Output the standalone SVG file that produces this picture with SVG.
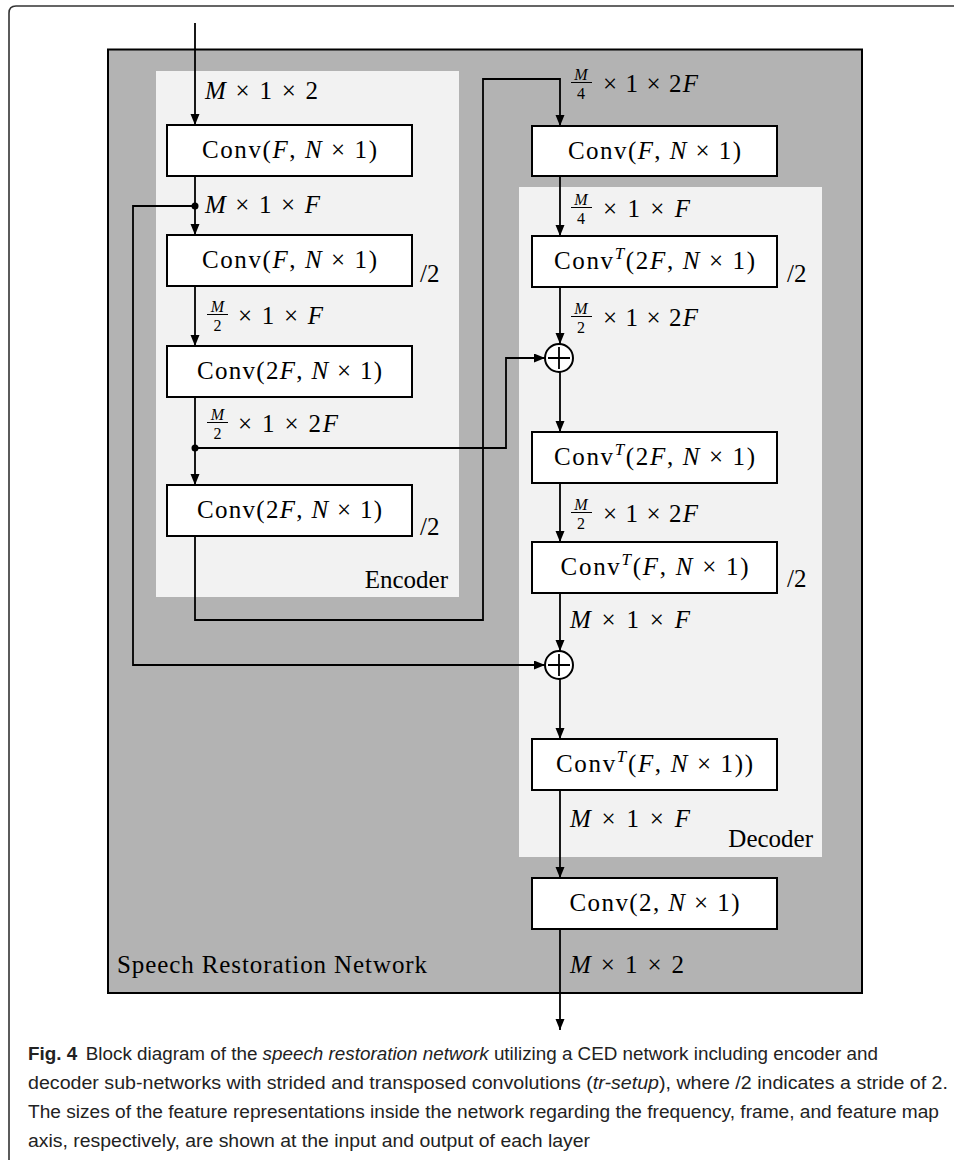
<svg xmlns="http://www.w3.org/2000/svg" width="954" height="1160" viewBox="0 0 954 1160">
<defs>
<marker id="arr" markerUnits="userSpaceOnUse" markerWidth="12" markerHeight="10" refX="11" refY="4.5" orient="auto">
<path d="M0,0 L11,4.5 L0,9 z" fill="#000"/>
</marker>
<style>
.blk{fill:#fff;stroke:#000;stroke-width:2}
.ln{fill:none;stroke:#000;stroke-width:1.8}
.tx{font-family:"Liberation Serif",serif;font-size:25px;fill:#000}
.it{font-style:italic}
.fr{font-family:"Liberation Serif",serif;font-size:16px;font-style:italic;fill:#000}
.frn{font-family:"Liberation Serif",serif;font-size:16px;fill:#000}
.bar{stroke:#000;stroke-width:1}
.cap{font-family:"Liberation Sans",Arial,sans-serif;font-size:17.5px;fill:#222}
.dot{fill:#000}
.sum{fill:#fff;stroke:#000;stroke-width:2}
</style>
</defs>
<rect width="954" height="1160" fill="#fff"/>
<path d="M9,1160 V13 Q9,6 16,6 H954" fill="none" stroke="#333" stroke-width="1.6"/>

<g id="network">
<rect x="108" y="49.5" width="754" height="943.5" fill="#b3b3b3" stroke="#000" stroke-width="2"/>
<text class="tx" x="117" y="973" textLength="310">Speech Restoration Network</text>
</g>
<g id="encoder">
<rect x="156" y="71" width="303" height="526" fill="#f2f2f2"/>
<text class="tx" x="448" y="588" text-anchor="end">Encoder</text>
</g>
<g id="decoder">
<rect x="519" y="187" width="303" height="670" fill="#f2f2f2"/>
<text class="tx" x="813" y="847" text-anchor="end">Decoder</text>
</g>

<g id="connectors">
<path class="ln" d="M195,23 V125" marker-end="url(#arr)"/>
<path class="ln" d="M195,176 V235" marker-end="url(#arr)"/>
<path class="ln" d="M195,286 V346" marker-end="url(#arr)"/>
<path class="ln" d="M195,397 V485" marker-end="url(#arr)"/>
<path class="ln" d="M195,536 V620 H483 V79 H560 V126" marker-end="url(#arr)"/>
<path class="ln" d="M195,206 H133 V665 H545" marker-end="url(#arr)"/>
<path class="ln" d="M195,448 H506 V358 H545" marker-end="url(#arr)"/>
<path class="ln" d="M560,176 V236" marker-end="url(#arr)"/>
<path class="ln" d="M560,287 V344" marker-end="url(#arr)"/>
<path class="ln" d="M560,372 V432" marker-end="url(#arr)"/>
<path class="ln" d="M560,483 V542" marker-end="url(#arr)"/>
<path class="ln" d="M560,593 V651" marker-end="url(#arr)"/>
<path class="ln" d="M560,679 V739" marker-end="url(#arr)"/>
<path class="ln" d="M560,790 V878" marker-end="url(#arr)"/>
<path class="ln" d="M560,929 V1030" marker-end="url(#arr)"/>
<circle class="dot" cx="195" cy="206" r="3.5"/>
<circle class="dot" cx="195" cy="448" r="3.5"/>
</g>

<g id="labels">
<text class="tx" x="205" y="99" textLength="113"><tspan class="it">M</tspan> × 1 × 2</text>
<text class="tx" x="205" y="213" textLength="115"><tspan class="it">M</tspan> × 1 × <tspan class="it">F</tspan></text>
<text class="tx" x="420" y="282">/2</text>
<text class="fr" x="217.5" y="312" text-anchor="middle">M</text>
<line class="bar" x1="207" y1="314.5" x2="228" y2="314.5"/>
<text class="frn" x="217.5" y="331" text-anchor="middle">2</text>
<text class="tx" x="238" y="324" textLength="85">× 1 × <tspan class="it">F</tspan></text>
<text class="fr" x="217.5" y="420" text-anchor="middle">M</text>
<line class="bar" x1="207" y1="422.5" x2="228" y2="422.5"/>
<text class="frn" x="217.5" y="439" text-anchor="middle">2</text>
<text class="tx" x="238" y="432" textLength="100">× 1 × 2<tspan class="it">F</tspan></text>
<text class="tx" x="420" y="535">/2</text>

<text class="fr" x="581" y="80" text-anchor="middle">M</text>
<line class="bar" x1="571" y1="82.5" x2="592" y2="82.5"/>
<text class="frn" x="581" y="99" text-anchor="middle">4</text>
<text class="tx" x="603" y="92" textLength="95">× 1 × 2<tspan class="it">F</tspan></text>
<text class="fr" x="581" y="205" text-anchor="middle">M</text>
<line class="bar" x1="571" y1="207.5" x2="592" y2="207.5"/>
<text class="frn" x="581" y="224" text-anchor="middle">4</text>
<text class="tx" x="603" y="217" textLength="87">× 1 × <tspan class="it">F</tspan></text>
<text class="tx" x="787" y="282">/2</text>
<text class="fr" x="581" y="314" text-anchor="middle">M</text>
<line class="bar" x1="571" y1="316.5" x2="592" y2="316.5"/>
<text class="frn" x="581" y="333" text-anchor="middle">2</text>
<text class="tx" x="603" y="326" textLength="95">× 1 × 2<tspan class="it">F</tspan></text>
<text class="fr" x="581" y="510" text-anchor="middle">M</text>
<line class="bar" x1="571" y1="512.5" x2="592" y2="512.5"/>
<text class="frn" x="581" y="529" text-anchor="middle">2</text>
<text class="tx" x="603" y="522" textLength="95">× 1 × 2<tspan class="it">F</tspan></text>
<text class="tx" x="787" y="587">/2</text>
<text class="tx" x="570" y="628" textLength="120"><tspan class="it">M</tspan> × 1 × <tspan class="it">F</tspan></text>
<text class="tx" x="570" y="827" textLength="120"><tspan class="it">M</tspan> × 1 × <tspan class="it">F</tspan></text>
<text class="tx" x="570" y="973" textLength="114"><tspan class="it">M</tspan> × 1 × 2</text>
</g>

<g id="enc1"><rect class="blk" x="167" y="125" width="245" height="51"/>
<text class="tx" x="289.5" y="158" text-anchor="middle" textLength="175">Conv(<tspan class="it">F</tspan>, <tspan class="it">N</tspan> × 1)</text></g>
<g id="enc2"><rect class="blk" x="167" y="235" width="245" height="51"/>
<text class="tx" x="289.5" y="268" text-anchor="middle" textLength="175">Conv(<tspan class="it">F</tspan>, <tspan class="it">N</tspan> × 1)</text></g>
<g id="enc3"><rect class="blk" x="167" y="346" width="245" height="51"/>
<text class="tx" x="289.5" y="379" text-anchor="middle" textLength="185">Conv(2<tspan class="it">F</tspan>, <tspan class="it">N</tspan> × 1)</text></g>
<g id="enc4"><rect class="blk" x="167" y="485" width="245" height="51"/>
<text class="tx" x="289.5" y="518" text-anchor="middle" textLength="185">Conv(2<tspan class="it">F</tspan>, <tspan class="it">N</tspan> × 1)</text></g>

<g id="dec1"><rect class="blk" x="532" y="126" width="245" height="50"/>
<text class="tx" x="654.5" y="159" text-anchor="middle" textLength="173">Conv(<tspan class="it">F</tspan>, <tspan class="it">N</tspan> × 1)</text></g>
<g id="dec2"><rect class="blk" x="532" y="236" width="245" height="51"/>
<text class="tx" x="654.5" y="269" text-anchor="middle" textLength="201">Conv<tspan class="it" font-size="17" dy="-10">T</tspan><tspan dy="10">(2</tspan><tspan class="it">F</tspan>, <tspan class="it">N</tspan> × 1)</text></g>
<g id="sum1"><circle class="sum" cx="559" cy="358" r="14"/>
<path class="ln" d="M548,358 H570 M559,347 V369"/></g>
<g id="dec3"><rect class="blk" x="532" y="432" width="245" height="51"/>
<text class="tx" x="654.5" y="465" text-anchor="middle" textLength="201">Conv<tspan class="it" font-size="17" dy="-10">T</tspan><tspan dy="10">(2</tspan><tspan class="it">F</tspan>, <tspan class="it">N</tspan> × 1)</text></g>
<g id="dec4"><rect class="blk" x="532" y="542" width="245" height="51"/>
<text class="tx" x="654.5" y="575" text-anchor="middle" textLength="188">Conv<tspan class="it" font-size="17" dy="-10">T</tspan><tspan dy="10">(</tspan><tspan class="it">F</tspan>, <tspan class="it">N</tspan> × 1)</text></g>
<g id="sum2"><circle class="sum" cx="559" cy="665" r="14"/>
<path class="ln" d="M548,665 H570 M559,654 V676"/></g>
<g id="dec5"><rect class="blk" x="532" y="739" width="245" height="51"/>
<text class="tx" x="654.5" y="772" text-anchor="middle" textLength="197">Conv<tspan class="it" font-size="17" dy="-10">T</tspan><tspan dy="10">(</tspan><tspan class="it">F</tspan>, <tspan class="it">N</tspan> × 1))</text></g>
<g id="dec6"><rect class="blk" x="532" y="878" width="245" height="51"/>
<text class="tx" x="654.5" y="911" text-anchor="middle" textLength="170">Conv(2, <tspan class="it">N</tspan> × 1)</text></g>

<g id="caption">
<text class="cap" x="28" y="1060" textLength="850" lengthAdjust="spacingAndGlyphs"><tspan font-weight="bold">Fig. 4</tspan><tspan dx="8">Block diagram of the </tspan><tspan font-style="italic">speech restoration network</tspan> utilizing a CED network including encoder and</text>
<text class="cap" x="28" y="1089" textLength="920" lengthAdjust="spacingAndGlyphs">decoder sub-networks with strided and transposed convolutions (<tspan font-style="italic">tr-setup</tspan>), where /2 indicates a stride of 2.</text>
<text class="cap" x="28" y="1118" textLength="911" lengthAdjust="spacingAndGlyphs">The sizes of the feature representations inside the network regarding the frequency, frame, and feature map</text>
<text class="cap" x="28" y="1147" textLength="562" lengthAdjust="spacingAndGlyphs">axis, respectively, are shown at the input and output of each layer</text>
</g>
</svg>
